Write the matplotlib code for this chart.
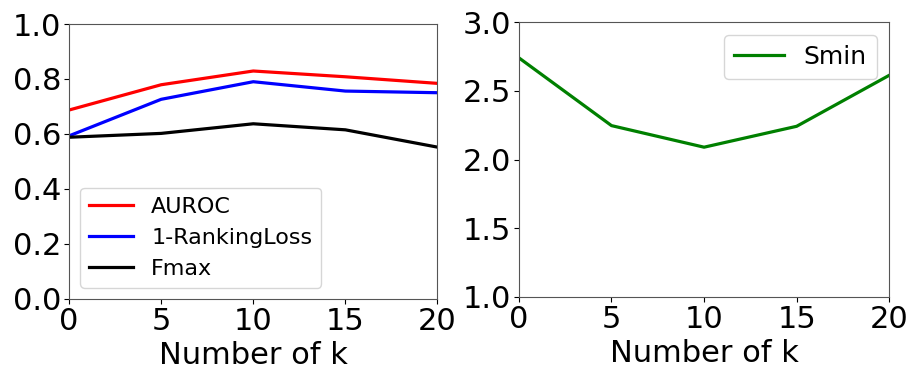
import matplotlib
matplotlib.use('Agg')
import matplotlib.pyplot as plt

k = [0, 5, 10, 15, 20]
auroc = [0.687, 0.779, 0.829, 0.808, 0.784]
ranking = [0.593, 0.726, 0.790, 0.756, 0.750]
fmax = [0.588, 0.602, 0.637, 0.615, 0.552]
smin = [2.74, 2.247, 2.09, 2.242, 2.613]

fig = plt.figure(figsize=(9.12, 3.75), dpi=100)
ax1 = fig.add_axes([0.0757, 0.203, 0.404, 0.733])
ax2 = fig.add_axes([0.569, 0.208, 0.406, 0.733])

ax1.plot(k, auroc, color='red', lw=2.3, label='AUROC')
ax1.plot(k, ranking, color='blue', lw=2.3, label='1-RankingLoss')
ax1.plot(k, fmax, color='black', lw=2.3, label='Fmax')
ax1.set_xlim(0, 20)
ax1.set_ylim(0, 1.0)
ax1.set_xticks([0, 5, 10, 15, 20])
ax1.set_yticks([0.0, 0.2, 0.4, 0.6, 0.8, 1.0])
ax1.set_xlabel('Number of k', fontsize=22, labelpad=4)
ax1.tick_params(labelsize=22, pad=2)
ax1.legend(loc='lower left', fontsize=16, labelspacing=0.5)

ax2.plot(k, smin, color='green', lw=2.3, label='Smin')
ax2.set_xlim(0, 20)
ax2.set_ylim(1.0, 3.0)
ax2.set_xticks([0, 5, 10, 15, 20])
ax2.set_yticks([1.0, 1.5, 2.0, 2.5, 3.0])
ax2.set_xlabel('Number of k', fontsize=22, labelpad=4)
ax2.tick_params(labelsize=22, pad=2)
ax2.legend(loc='upper right', fontsize=18)

for ax in (ax1, ax2):
    for s in ax.spines.values():
        s.set_color('#555555')

fig.savefig('out.png', dpi=100)
